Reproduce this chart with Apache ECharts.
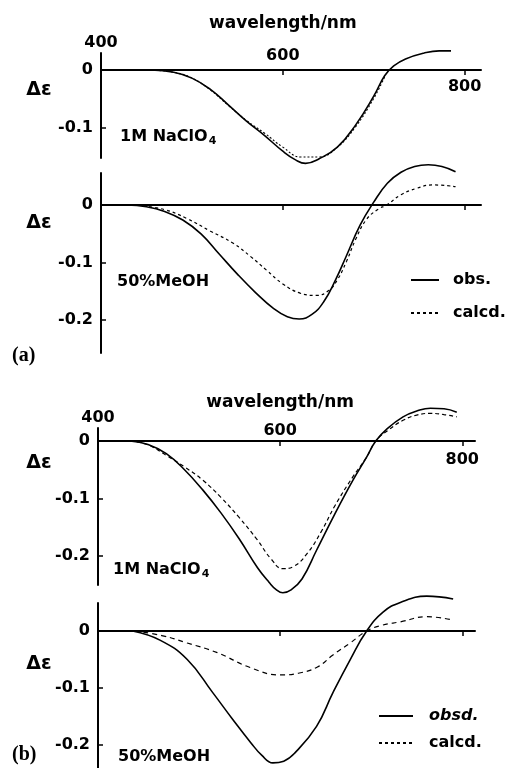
<!DOCTYPE html>
<html>
<head>
<meta charset="utf-8">
<script src="https://cdn.jsdelivr.net/npm/echarts@6/dist/echarts.min.js"></script>
<style>
  html, body { margin: 0; background: #fff; }
  #canvas { width: 511px; height: 768px; }
</style>
</head>
<body>
<div id="canvas"></div>
<script>
/* eslint-disable no-undef */
// (a) 1M NaClO4
const waveA1Obs = [455, 480, 500, 520, 540, 560, 580, 600, 614, 625, 640, 660, 680, 700, 712, 722, 735, 755, 772, 785];
const obsA1 = [0, -0.004, -0.014, -0.033, -0.060, -0.088, -0.113, -0.140, -0.155, -0.161, -0.153, -0.133, -0.095, -0.045, -0.010, 0.007, 0.019, 0.029, 0.033, 0.033];
const waveA1Calc = [455, 480, 500, 520, 540, 560, 580, 600, 620, 640, 660, 680, 700, 712];
const calcA1 = [0, -0.004, -0.014, -0.034, -0.061, -0.087, -0.109, -0.133, -0.150, -0.150, -0.133, -0.098, -0.049, -0.012];

// (a) 50% MeOH
const waveA2Obs = [428, 450, 470, 490, 510, 530, 550, 570, 590, 605, 618, 632, 645, 658, 670, 685, 700, 715, 730, 745, 760, 775, 790];
const obsA2 = [0, -0.003, -0.011, -0.026, -0.050, -0.085, -0.120, -0.152, -0.180, -0.194, -0.198, -0.190, -0.168, -0.130, -0.088, -0.035, 0.005, 0.038, 0.057, 0.067, 0.070, 0.067, 0.058];
const waveA2Calc = [440, 470, 494, 520, 545, 565, 582, 600, 619, 637, 650, 660, 670, 680, 692, 705, 714, 730, 747, 765, 790];
const calcA2 = [0, -0.008, -0.023, -0.045, -0.066, -0.090, -0.113, -0.137, -0.153, -0.157, -0.149, -0.130, -0.098, -0.060, -0.025, -0.007, 0, 0.018, 0.029, 0.035, 0.032];

// (b) 1M NaClO4
const waveB1Obs = [435, 455, 475, 495, 515, 535, 555, 575, 588, 596, 603, 612, 624, 640, 660, 680, 695, 705, 718, 735, 750, 765, 780, 794];
const obsB1 = [0, -0.006, -0.022, -0.050, -0.085, -0.125, -0.170, -0.220, -0.246, -0.259, -0.264, -0.259, -0.240, -0.190, -0.127, -0.068, -0.028, 0, 0.022, 0.042, 0.052, 0.057, 0.056, 0.050];
const waveB1Calc = [435, 455, 475, 495, 515, 535, 555, 575, 590, 603, 615, 630, 645, 660, 680, 695, 705, 718, 735, 750, 765, 780, 794];
const calcB1 = [0, -0.007, -0.025, -0.045, -0.068, -0.098, -0.133, -0.172, -0.205, -0.222, -0.218, -0.195, -0.158, -0.113, -0.062, -0.028, 0, 0.018, 0.036, 0.045, 0.048, 0.046, 0.042];

// (b) 50% MeOH
const waveB2Obs = [438, 468, 498, 526, 548, 568, 580, 592, 604, 616, 640, 658, 677, 695, 713, 732, 761, 790];
const obsB2 = [0, -0.016, -0.050, -0.108, -0.155, -0.196, -0.218, -0.231, -0.228, -0.214, -0.167, -0.108, -0.050, 0, 0.033, 0.050, 0.061, 0.056];
const waveB2Calc = [440, 470, 498, 531, 567, 600, 620, 641, 658, 677, 695, 712, 732, 761, 790];
const calcB2 = [0, -0.008, -0.021, -0.038, -0.064, -0.077, -0.074, -0.063, -0.042, -0.021, 0, 0.010, 0.016, 0.025, 0.019];

const xTickValues = [400, 600, 800];
const yTickValues = [0, -0.1, -0.2];
const solventLabels = ['1M NaClO{s|4}', '50%MeOH', '1M NaClO{s|4}', '50%MeOH'];

const FONT = '"DejaVu Sans", sans-serif';
const zip = (xs, ys) => xs.map((x, i) => [x, ys[i]]);

// panel layout: grid box + y range (zero line position follows from it)
const panels = [
  { left: 101, top: 53, width: 380, height: 105, ymin: -0.1517, ymax: 0.0293, xmax: 818 },
  { left: 101, top: 173, width: 380, height: 180, ymin: -0.257, ymax: 0.0557, xmax: 818 },
  { left: 98, top: 428, width: 377, height: 157, ymin: -0.2504, ymax: 0.0226, xmax: 814 },
  { left: 98, top: 603, width: 377, height: 165, ymin: -0.240, ymax: 0.049, xmax: 814 },
];

const chart = echarts.init(document.getElementById('canvas'));

const lineSeries = (name, idx, data, type, width) => ({
  name,
  type: 'line',
  xAxisIndex: idx,
  yAxisIndex: idx,
  data,
  smooth: 0.45,
  showSymbol: false,
  symbol: 'none',
  clip: false,
  silent: true,
  animation: false,
  itemStyle: { color: '#000' },
  lineStyle: { color: '#000', width, type },
});

const legendText = {
  color: '#000', fontSize: 16, fontWeight: 'bold', fontFamily: FONT,
  rich: { i: { fontStyle: 'italic', fontSize: 16, fontWeight: 'bold', fontFamily: FONT, color: '#000' } },
};

const option = {
  backgroundColor: '#fff',
  animation: false,
  grid: panels.map((p) => ({ left: p.left, top: p.top, width: p.width, height: p.height })),
  xAxis: panels.map((p, i) => ({
    gridIndex: i,
    type: 'value',
    min: 400,
    max: p.xmax,
    axisLine: { onZero: true, lineStyle: { color: '#000', width: 2 } },
    axisTick: { show: true, customValues: [600, 800], length: 5, lineStyle: { color: '#000', width: 1.5 } },
    axisLabel: { show: false },
    splitLine: { show: false },
  })),
  yAxis: panels.map((p, i) => ({
    gridIndex: i,
    type: 'value',
    min: p.ymin,
    max: p.ymax,
    axisLine: { show: true, lineStyle: { color: '#000', width: 2 } },
    axisTick: {
      show: true,
      inside: true,
      length: 5,
      customValues: yTickValues.filter((v) => v < 0 && v >= p.ymin),
      lineStyle: { color: '#000', width: 1.5 },
    },
    axisLabel: {
      customValues: yTickValues.filter((v) => v >= p.ymin),
      margin: 8,
      color: '#000',
      fontSize: 16,
      fontWeight: 'bold',
      fontFamily: FONT,
      formatter: (v) => (v === 0 ? '0' : v.toFixed(1)),
    },
    splitLine: { show: false },
  })),
  legend: [
    {
      data: ['obs.', 'calcd.'],
      orient: 'vertical',
      left: 410,
      top: 272,
      padding: 0,
      itemWidth: 28,
      itemHeight: 14,
      itemGap: 17,
      selectedMode: false,
      itemStyle: { opacity: 0 },
      textStyle: Object.assign({ padding: [0, 0, 0, 9] }, legendText),
    },
    {
      data: ['obsd.', 'calcd.'],
      orient: 'vertical',
      left: 378,
      top: 708,
      padding: 0,
      itemWidth: 34,
      itemHeight: 14,
      itemGap: 11,
      selectedMode: false,
      itemStyle: { opacity: 0 },
      formatter: (n) => (n === 'obsd.' ? '{i|obsd.}' : n),
      textStyle: Object.assign({ padding: [0, 0, 0, 11] }, legendText),
    },
  ],
  series: [
    lineSeries('obs. (a, NaClO4)', 0, zip(waveA1Obs, obsA1), 'solid', 1.6),
    lineSeries('calcd. (a, NaClO4)', 0, zip(waveA1Calc, calcA1), [2, 2], 1.1),
    lineSeries('obs.', 1, zip(waveA2Obs, obsA2), 'solid', 1.6),
    lineSeries('calcd.', 1, zip(waveA2Calc, calcA2), [3, 3], 1.2),
    lineSeries('obsd. (b, NaClO4)', 2, zip(waveB1Obs, obsB1), 'solid', 1.6),
    lineSeries('calcd. (b, NaClO4)', 2, zip(waveB1Calc, calcB1), [4, 3], 1.2),
    lineSeries('obsd.', 3, zip(waveB2Obs, obsB2), 'solid', 1.6),
    lineSeries('calcd. (b, MeOH)', 3, zip(waveB2Calc, calcB2), [5, 4], 1.2),
  ],
};

chart.setOption(option);

// texts placed from the axes' own scales
const txt = (text, x, y, extra) => ({
  type: 'text',
  x,
  y,
  silent: true,
  style: Object.assign({
    text, fill: '#000', fontSize: 16, fontWeight: 'bold', fontFamily: FONT,
    align: 'center', verticalAlign: 'middle',
  }, extra || {}),
});

const graphics = [];
// top x-axis labels: panels 0 and 2
const xLabelY = { 0: [43, 56, 87, 24], 2: [418, 431, 460, 403] };
[0, 2].forEach((idx) => {
  xTickValues.forEach((v, k) => {
    const px = chart.convertToPixel({ xAxisIndex: idx }, v);
    graphics.push(txt(String(v), px, xLabelY[idx][k]));
  });
  const mid = chart.convertToPixel({ xAxisIndex: idx }, 600);
  graphics.push(txt('wavelength/nm', mid, xLabelY[idx][3], { fontSize: 17 }));
});

// Δε near each y axis
const deltaY = [90, 223, 463, 664];
deltaY.forEach((y) => graphics.push(txt('Δε', 39, y, { fontSize: 19 })));

// solvent labels
const solventPos = [[120, 137], [117, 282], [113, 570], [118, 757]];
solventLabels.forEach((t, i) => {
  graphics.push(txt(t, solventPos[i][0], solventPos[i][1], {
    align: 'left',
    rich: { s: { fontSize: 11, fontWeight: 'bold', fontFamily: FONT, padding: [9, 0, 0, 1] } },
  }));
});

// panel letters
graphics.push(txt('(a)', 12, 356, { align: 'left', fontFamily: '"Liberation Serif", serif', fontSize: 20 }));
graphics.push(txt('(b)', 12, 755, { align: 'left', fontFamily: '"Liberation Serif", serif', fontSize: 20 }));

chart.setOption({ graphic: graphics });

window.onresize = chart.resize;
</script>
</body>
</html>
